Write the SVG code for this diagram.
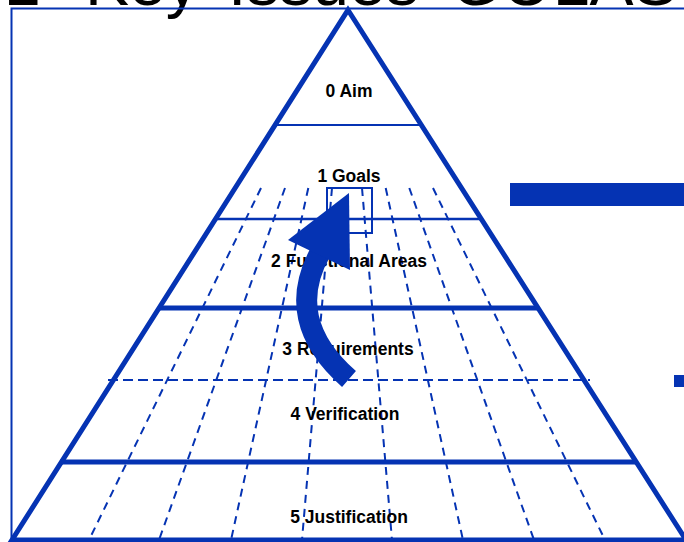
<svg xmlns="http://www.w3.org/2000/svg" width="684" height="542" viewBox="0 0 684 542">
<style>
.b{stroke:#0533b3;fill:none}
.lbl{font-family:"Liberation Sans",Arial,sans-serif;font-weight:bold;font-size:17.5px;fill:#000;text-anchor:middle}
.ttl{font-family:"Liberation Sans",Arial,sans-serif;font-size:66px;fill:#000}
.rad{stroke:#0533b3;stroke-width:2;stroke-dasharray:8 6;fill:none}
</style>
<rect width="684" height="542" fill="#fff"/>
<g id="title">
<text class="ttl" y="5"><tspan x="4">1</tspan><tspan x="85">Key</tspan><tspan x="228">Issues</tspan><tspan x="450">GOLAS</tspan></text>
</g>
<g id="frame">
<path class="b" stroke-width="2" d="M11.5,542 V8.5 H684"/>
</g>
<g id="bars">
<rect x="510" y="183" width="174" height="23" fill="#0533b3"/>
<rect x="674" y="375" width="10" height="12" fill="#0533b3"/>
</g>
<g id="grid">
<path class="rad" d="M261,188 L89,540 M285,188 L159,540 M308.3,188 L231,540 M332,188 L302,540 M362,188 L392,540 M385.7,188 L463,540 M409.3,188 L534,540 M433,188 L605,540"/>
<path class="b" stroke-width="2" d="M274,125 H422"/>
<path class="b" stroke-width="2.5" d="M215,219 H481"/>
<path class="b" stroke-width="5" d="M158,308 H538"/>
<path class="b" stroke-width="2" stroke-dasharray="10 5" d="M108,380 H590"/>
<path class="b" stroke-width="5" d="M60,462 H636"/>
</g>
<g id="pyramid">
<polygon class="b" stroke-width="5" stroke-linejoin="miter" points="348,10 686,540 12,540"/>
</g>
<g id="n0"><text class="lbl" x="349" y="97">0 Aim</text></g>
<g id="n1"><text class="lbl" x="349" y="182">1 Goals</text></g>
<g id="n2"><text class="lbl" x="349" y="267">2 Functional Areas</text></g>
<g id="n3"><text class="lbl" x="348" y="355">3 Requirements</text></g>
<g id="n4"><text class="lbl" x="345" y="420">4 Verification</text></g>
<g id="n5"><text class="lbl" x="349" y="523">5 Justification</text></g>
<g id="focus">
<rect class="b" stroke-width="2" x="327" y="188" width="45" height="45"/>
</g>
<g id="connectors">
<path d="M349,379 Q282,320 321,251" stroke="#0533b3" stroke-width="21" fill="none"/>
<polygon points="349,193 288,240 350,270" fill="#0533b3"/>
</g>
</svg>
